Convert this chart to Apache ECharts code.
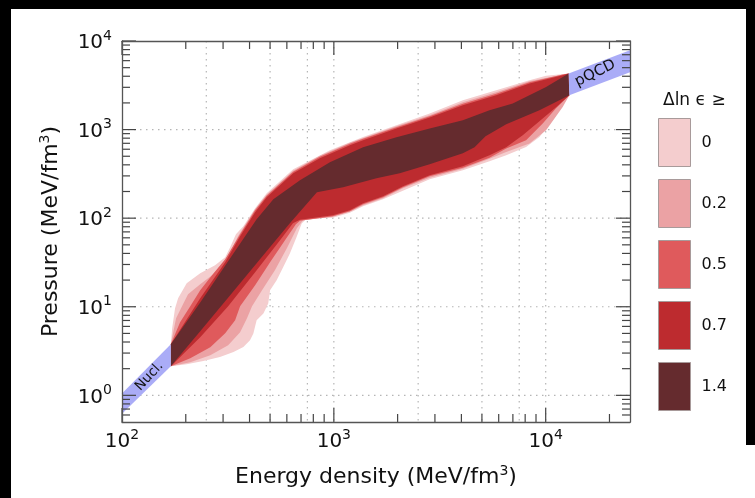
<!DOCTYPE html>
<html>
<head>
<meta charset="utf-8">
<script src="https://cdn.jsdelivr.net/npm/echarts@6/dist/echarts.min.js"></script>
<style>
  html, body { margin: 0; padding: 0; background: #fff; }
  #chart { width: 755px; height: 498px; }
</style>
</head>
<body>
<div id="chart"></div>
<script>
const FONT = 'DejaVu Sans';

// legend thresholds (Δln ε ≥ ...) and band colours, outermost first
const thresholds = ['0', '0.2', '0.5', '0.7', '1.4'];
const bandColors = ['#f4cdce', '#eba2a4', '#df5a5c', '#bd2b2f', '#652b2e'];

// band envelopes, [energy density, pressure] in MeV/fm^3
const upper0 = [[170, 3.77], [172.5, 5.72], [178, 9.62], [184, 12.5], [202, 18.4], [234, 23.9], [275, 29.4],
  [307, 36.2], [324, 47.0], [345, 65.8], [374, 81.0], [425, 129.3], [482, 191], [643, 356.4], [958, 584],
  [1374, 825], [1974, 1119], [2833, 1516], [4064, 2141], [5840, 2778], [8380, 3601], [10040, 4049], [12830, 4287]];
const lower0 = [[170, 2.13], [202, 2.24], [242, 2.44], [290, 2.71], [336, 3.09], [374, 3.52], [402, 4.19],
  [417, 4.98], [432, 7.04], [465, 8.38], [490, 10.87], [500, 15.36], [537, 19.92], [577, 28.13], [620, 39.9],
  [667, 61.3], [705, 86.9], [744, 99.0], [989, 101], [1190, 115.1], [1374, 136.2], [1707, 163.5], [2200, 212],
  [2833, 275], [4064, 347.3], [5430, 438.7], [6510, 512.7], [8080, 636], [9340, 825], [10790, 1274],
  [12480, 2141], [12930, 2439]];

const upper02 = [[170, 3.77], [180, 7.42], [192, 10.1], [205, 13.8], [234, 17.9], [266, 22.7], [297, 28.6],
  [317, 37.2], [353, 62.5], [425, 126], [482, 183.7], [643, 342.8], [859, 506], [1190, 710], [1974, 1090],
  [2833, 1450], [4064, 2033], [5840, 2636], [8380, 3509], [12830, 4287]];
const lower02 = [[170, 2.13], [210, 2.36], [261, 2.84], [317, 3.68], [361, 5.16], [389, 7.42], [411, 10.1],
  [458, 15.4], [527, 25.8], [600, 45.75], [669, 76.9], [715, 94.7], [989, 103.7], [1190, 118.1], [1374, 139.8],
  [1707, 167.7], [2121, 217.5], [2833, 286], [4064, 361.2], [5430, 468.1], [6510, 558.7], [8380, 695.1],
  [10040, 981.9], [12030, 1799], [12930, 2439]];

const upper05 = [[170, 3.77], [188, 6.68], [210, 10.1], [234, 15.4], [266, 22.7], [307, 34.4], [361, 65.8],
  [425, 122.8], [482, 178.9], [643, 334], [859, 493], [1190, 692], [1374, 788], [1974, 1062], [2833, 1413],
  [4064, 1955], [5840, 2536], [8380, 3420], [12030, 4177], [12830, 4287]];
const lower05 = [[170, 2.13], [210, 2.62], [261, 3.49], [307, 5.02], [342, 7.04], [361, 10.1], [425, 17.5],
  [500, 31.8], [588, 56.3], [662, 85.3], [692, 93.5], [989, 105], [1190, 119.7], [1374, 143.6], [1707, 172.2],
  [2121, 223.3], [2833, 297], [4064, 370.6], [5430, 480.4], [6510, 610.5], [8080, 757.3], [9680, 1169],
  [11190, 1739], [12930, 2439]];

const upper07 = [[170, 3.77], [234, 12.5], [307, 31.8], [361, 62.5], [425, 116.6], [482, 172.2], [643, 321.2],
  [859, 474.3], [1190, 665], [1374, 757], [1974, 1026], [2833, 1366], [4064, 1881], [5840, 2439], [8380, 3306],
  [12030, 4102], [12830, 4287]];
const lower07 = [[170, 2.13], [234, 4.53], [317, 10.1], [425, 24.5], [557, 56.3], [641, 87.6], [692, 95.9],
  [989, 107.8], [1190, 122.8], [1374, 147.3], [1707, 176.7], [2121, 229.1], [2833, 304.9], [4064, 385.2],
  [5430, 512.7], [6510, 631.3], [7790, 862.4], [9340, 1241], [11190, 1785], [12930, 2439]];

const upper14 = [[170, 3.77], [234, 11.2], [324, 35.3], [432, 97.2], [518, 163.5], [692, 267.8], [958, 427.4],
  [1374, 631.3], [1974, 818.8], [2833, 1026], [4064, 1274], [5430, 1651], [6990, 1966], [10040, 3025],
  [12830, 4287]];
const lower14 = [[170, 2.13], [234, 5.29], [324, 13.5], [448, 34.4], [620, 87.6], [832, 196], [1106, 223.3],
  [1589, 282], [2046, 321.2], [2833, 405.8], [4064, 540], [4615, 631], [5200, 840], [6510, 1148], [9340, 1651],
  [12930, 2439]];

const bandUppers = [upper0, upper02, upper05, upper07, upper14];
const bandLowers = [lower0, lower02, lower05, lower07, lower14];

// nuclear and pQCD limits
const nuclBand = [[100, 1.05], [170, 3.77], [170, 2.13], [100, 0.62]];
const pqcdBand = [[12830, 4287], [25000, 7850], [25000, 4440], [12930, 2439]];
const bandLabels = [
  { text: 'Nucl.', at: [134.5, 1.64], angle: 47, size: 13.5 },
  { text: 'pQCD', at: [17140, 4320], angle: 26, size: 15 },
];

// axis ticks and dotted grid
const xMajor = [100, 1000, 10000];
const xMinor = [200, 300, 400, 500, 600, 700, 800, 900, 2000, 3000, 4000, 5000, 6000, 7000, 8000, 9000, 20000];
const yMajor = [1, 10, 100, 1000, 10000];
const yMinor = [0.6, 0.7, 0.8, 0.9, 2, 3, 4, 5, 6, 7, 8, 9, 20, 30, 40, 50, 60, 70, 80, 90,
  200, 300, 400, 500, 600, 700, 800, 900, 2000, 3000, 4000, 5000, 6000, 7000, 8000, 9000];
const xGrid = [250, 500, 750, 1000, 2500, 5000, 7500, 10000];
const yGrid = [1, 10, 100, 1000];

const chart = echarts.init(document.getElementById('chart'));

const powLabel = (v) => {
  const e = Math.log10(v);
  if (Math.abs(e - Math.round(e)) > 1e-6) return '';
  return '{b|10}{s|' + Math.round(e) + '}';
};
const labelRich = {
  b: { fontFamily: FONT, fontSize: 20, color: '#111', verticalAlign: 'bottom' },
  s: { fontFamily: FONT, fontSize: 14, color: '#111', verticalAlign: 'bottom', padding: [0, 0, 10, 0] },
};
const nameRich = {
  n: { fontFamily: FONT, fontSize: 22, color: '#111', verticalAlign: 'bottom' },
  s: { fontFamily: FONT, fontSize: 14, color: '#111', verticalAlign: 'bottom', padding: [0, 0, 10, 0] },
};
const frame = { show: true, lineStyle: { color: '#555', width: 1.3 } };

const polygon = (name, pts, color, z) => ({
  type: 'custom',
  name,
  silent: true,
  z,
  itemStyle: { color },
  data: [[1000, 100]],
  renderItem: (params, api) => ({
    type: 'polygon',
    shape: { points: pts.map((p) => api.coord(p)) },
    style: { fill: color },
  }),
});

const series = [];

series.push({
  type: 'custom',
  silent: true,
  z: 1,
  data: xGrid.map((v) => [v, 1]).concat(yGrid.map((v) => [-1, v])),
  renderItem: (params, api) => {
    const cs = params.coordSys;
    const style = { stroke: '#b5b5b5', lineWidth: 1.2, lineDash: [1.5, 4.5] };
    if (api.value(0) > 0) {
      const x = api.coord([api.value(0), 1])[0];
      return { type: 'line', shape: { x1: x, y1: cs.y, x2: x, y2: cs.y + cs.height }, style };
    }
    const y = api.coord([1000, api.value(1)])[1];
    return { type: 'line', shape: { x1: cs.x, y1: y, x2: cs.x + cs.width, y2: y }, style };
  },
});

thresholds.forEach((t, i) => {
  const pts = bandUppers[i].concat(bandLowers[i].slice().reverse());
  series.push(polygon(t, pts, bandColors[i], 2 + i * 0.01));
});
series.push(polygon('Nucl.', nuclBand, '#aaacf7', 3));
series.push(polygon('pQCD', pqcdBand, '#aaacf7', 3));

series.push({
  type: 'custom',
  silent: true,
  z: 4,
  data: bandLabels.map((b) => [b.at[0], b.at[1]]),
  renderItem: (params, api) => {
    const b = bandLabels[params.dataIndex];
    const p = api.coord([api.value(0), api.value(1)]);
    return {
      type: 'text',
      x: p[0],
      y: p[1],
      rotation: (b.angle * Math.PI) / 180,
      style: {
        text: b.text, fill: '#111', font: b.size + 'px "DejaVu Sans"',
        align: 'center', verticalAlign: 'middle',
      },
    };
  },
});

// inward ticks on all four sides
series.push({
  type: 'custom',
  silent: true,
  z: 6,
  data: xMajor.map((v) => [v, 1, 14]).concat(xMinor.map((v) => [v, 1, 8]))
    .concat(yMajor.map((v) => [-1, v, 14])).concat(yMinor.map((v) => [-1, v, 8])),
  renderItem: (params, api) => {
    const cs = params.coordSys;
    const len = api.value(2);
    const style = { stroke: '#444', lineWidth: 1.2 };
    let a;
    let b;
    if (api.value(0) > 0) {
      const x = api.coord([api.value(0), 1])[0];
      a = { x1: x, y1: cs.y + cs.height, x2: x, y2: cs.y + cs.height - len };
      b = { x1: x, y1: cs.y, x2: x, y2: cs.y + len };
    } else {
      const y = api.coord([1000, api.value(1)])[1];
      a = { x1: cs.x, y1: y, x2: cs.x + len, y2: y };
      b = { x1: cs.x + cs.width, y1: y, x2: cs.x + cs.width - len, y2: y };
    }
    return {
      type: 'group',
      children: [{ type: 'line', shape: a, style }, { type: 'line', shape: b, style }],
    };
  },
});

chart.setOption({
  backgroundColor: '#fff',
  animation: false,
  grid: { left: 122, top: 41, right: 125, bottom: 76 },
  xAxis: [{
    type: 'log',
    logBase: 10,
    min: 100,
    max: 25000,
    z: 10,
    name: '{n|Energy density (MeV/fm}{s|3}{n|)}',
    nameLocation: 'middle',
    nameGap: 42,
    nameTextStyle: { rich: nameRich },
    axisLine: frame,
    axisTick: { show: false },
    splitLine: { show: false },
    axisLabel: { formatter: powLabel, rich: labelRich, margin: 6 },
  }, {
    type: 'log',
    logBase: 10,
    min: 100,
    max: 25000,
    position: 'top',
    z: 10,
    axisLine: frame,
    axisTick: { show: false },
    splitLine: { show: false },
    axisLabel: { show: false },
  }],
  yAxis: [{
    type: 'log',
    logBase: 10,
    min: 0.5,
    max: 10000,
    z: 10,
    name: '{n|Pressure (MeV/fm}{s|3}{n|)}',
    nameLocation: 'middle',
    nameGap: 60,
    nameTextStyle: { rich: nameRich },
    axisLine: frame,
    axisTick: { show: false },
    splitLine: { show: false },
    axisLabel: { formatter: powLabel, rich: labelRich, margin: 10 },
  }, {
    type: 'log',
    logBase: 10,
    min: 0.5,
    max: 10000,
    position: 'right',
    z: 10,
    axisLine: frame,
    axisTick: { show: false },
    splitLine: { show: false },
    axisLabel: { show: false },
  }],
  legend: {
    data: thresholds,
    orient: 'vertical',
    left: 658,
    top: 118,
    padding: 0,
    itemWidth: 32,
    itemHeight: 48,
    itemGap: 12,
    icon: 'rect',
    selectedMode: false,
    itemStyle: { borderColor: '#a89a9a', borderWidth: 1 },
    textStyle: { fontFamily: FONT, fontSize: 16, color: '#111', padding: [0, 0, 0, 6] },
  },
  graphic: [
    { type: 'text', left: 663, top: 92, style: { text: 'Δln ϵ ≥', font: '17px "DejaVu Sans"', fill: '#111' } },
    { type: 'rect', left: 0, top: 0, shape: { width: 755, height: 9 }, style: { fill: '#000' } },
    { type: 'rect', left: 0, top: 0, shape: { width: 11, height: 498 }, style: { fill: '#000' } },
    { type: 'rect', left: 746, top: 0, shape: { width: 9, height: 445 }, style: { fill: '#000' } },
  ],
  series,
});
</script>
</body>
</html>
